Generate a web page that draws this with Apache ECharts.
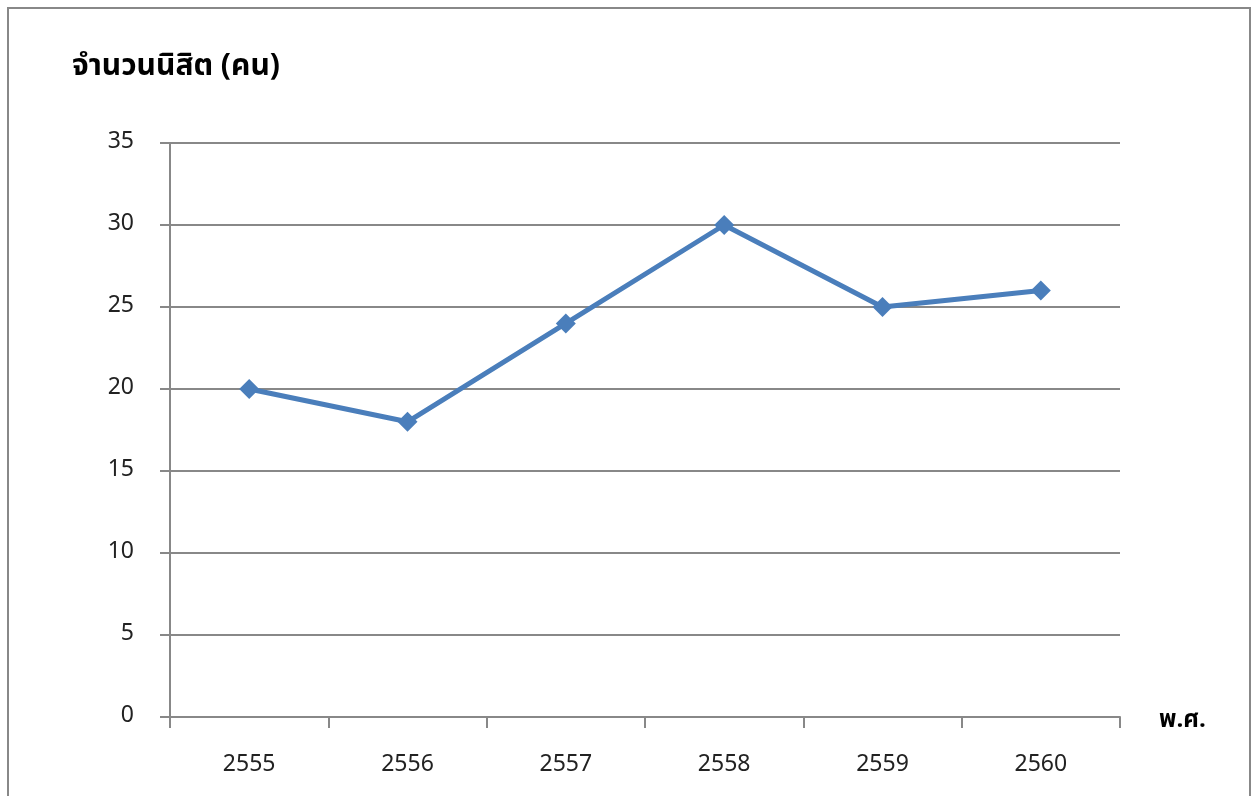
<!DOCTYPE html>
<html>
<head>
<meta charset="utf-8">
<script src="https://cdn.jsdelivr.net/npm/echarts@6/dist/echarts.min.js"></script>
<style>
  html, body { margin: 0; padding: 0; background: #fff; }
  /* กรอบรอบกราฟ */
  .frame {
    position: absolute; left: 7px; top: 7px; width: 1240px; height: 800px;
    border: 2px solid #888; border-bottom: none;
  }
  #chart { width: 1251px; height: 796px; }
</style>
</head>
<body>
<div class="frame"></div>
<div id="chart"></div>
<script>
// ปี พ.ศ.
const years = ["2555", "2556", "2557", "2558", "2559", "2560"];
// จำนวนนิสิต
const students = [20, 18, 24, 30, 25, 26];

const font = "'Noto Sans Thai', 'Noto Sans', 'DejaVu Sans', sans-serif";

let myChart = echarts.init(document.getElementById("chart"));
myChart.setOption({
  animation: false,
  textStyle: { fontFamily: font },
  graphic: [
    {
      type: "text", left: 72, top: 54,
      style: { text: "จำนวนนิสิต (คน)", font: "bold 30px " + font, fill: "#000" },
    },
    {
      type: "text", left: 1159, top: 710,
      style: { text: "พ.ศ.", font: "bold 24px " + font, fill: "#000" },
    },
  ],
  grid: { left: 170, right: 131, top: 143, bottom: 79 },
  xAxis: {
    type: "category",
    data: years,
    boundaryGap: true,
    axisLine: { lineStyle: { color: "#888", width: 2 } },
    axisTick: { show: true, interval: 0, length: 11, lineStyle: { color: "#888", width: 2 } },
    axisLabel: { fontSize: 23, color: "#222", margin: 38 },
  },
  yAxis: {
    type: "value",
    min: 0, max: 35, interval: 5,
    axisLine: { show: true, lineStyle: { color: "#888", width: 2 } },
    axisTick: { show: true, length: 10, lineStyle: { color: "#888", width: 2 } },
    axisLabel: { fontSize: 23, color: "#222", margin: 36 },
    splitLine: { lineStyle: { color: "#888", width: 2 } },
  },
  series: [
    {
      type: "line",
      data: students,
      symbol: "diamond",
      symbolSize: 20,
      lineStyle: { color: "#4A7EBB", width: 5 },
      itemStyle: { color: "#4A7EBB" },
    },
  ],
});
</script>
</body>
</html>
